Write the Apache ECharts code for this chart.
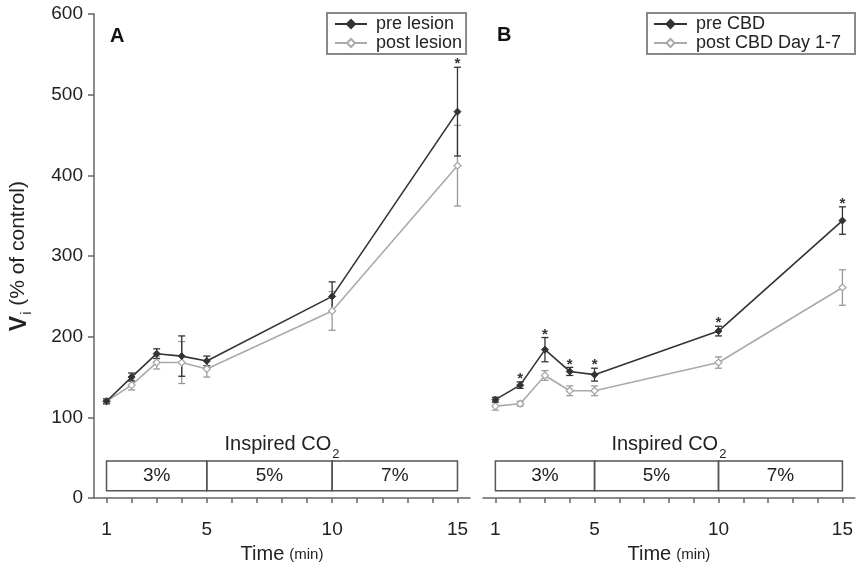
<!DOCTYPE html>
<html>
<head>
<meta charset="utf-8">
<script src="https://cdn.jsdelivr.net/npm/echarts@6/dist/echarts.min.js"></script>
<style>html,body{margin:0;padding:0;background:#fff;}#c{width:856px;height:569px;}</style>
</head>
<body>
<div id="c"></div>
<script>
// ---- data ----
var times = [1, 2, 3, 4, 5, 10, 15];
var preLesion = [120, 150, 179, 176, 170, 250, 479];
var preLesionErr = [3, 5, 6, 25, 6, 18, 55];
var postLesion = [120, 140, 168, 168, 160, 232, 412];
var postLesionErr = [3, 6, 8, 26, 10, 24, 50];
var sigA = [0, 0, 0, 0, 0, 0, 1];

var preCBD = [122, 140, 184, 157, 153, 207, 344];
var preCBDErr = [3, 4, 15, 5, 8, 6, 17];
var postCBD = [114, 117, 152, 133, 133, 168, 261];
var postCBDErr = [5, 3, 6, 6, 6, 7, 22];
var sigB = [0, 1, 1, 1, 1, 1, 1];

var co2Starts = [1, 5, 10];
var co2Ends = [5, 10, 15];
var co2Labels = ['3%', '5%', '7%'];

var xTickValues = [1,2,3,4,5,6,7,8,9,10,11,12,13,14,15];
var xLabelValues = [1, 5, 10, 15];

var FONT = 'Liberation Sans, Arial, sans-serif';
var DARK = '#333';
var LIGHT = '#aaa';

function pairs(ys) { return times.map(function (t, i) { return [t, ys[i]]; }); }
function errData(ys, es, sig) { return times.map(function (t, i) { return [t, ys[i], es[i], sig ? sig[i] : 0]; }); }

function errRender(color) {
  return function (params, api) {
    var x = api.value(0), y = api.value(1), e = api.value(2), s = api.value(3);
    var top = api.coord([x, y + e]);
    var bot = api.coord([x, y - e]);
    var w = 3.5;
    var children = [
      {type: 'line', shape: {x1: top[0], y1: top[1], x2: bot[0], y2: bot[1]}, style: {stroke: color, lineWidth: 1.3}},
      {type: 'line', shape: {x1: top[0] - w, y1: top[1], x2: top[0] + w, y2: top[1]}, style: {stroke: color, lineWidth: 1.3}},
      {type: 'line', shape: {x1: bot[0] - w, y1: bot[1], x2: bot[0] + w, y2: bot[1]}, style: {stroke: color, lineWidth: 1.3}}
    ];
    if (s) {
      children.push({type: 'text', x: top[0], y: top[1] - 3, style: {text: '*', fill: '#333', font: 'bold 15px ' + FONT, align: 'center', verticalAlign: 'middle'}});
    }
    return {type: 'group', children: children};
  };
}

function co2Render(params, api) {
  var s = api.value(0), e = api.value(1);
  var p1 = api.coord([s, 46]);
  var p2 = api.coord([e, 9]);
  var mid = api.coord([(s + e) / 2, 27.5]);
  var children = [
    {type: 'rect', shape: {x: p1[0], y: p1[1], width: p2[0] - p1[0], height: p2[1] - p1[1]}, style: {fill: 'none', stroke: '#555', lineWidth: 1.5}},
    {type: 'text', x: mid[0], y: mid[1], style: {text: co2Labels[params.dataIndex], fill: '#222', font: '19px ' + FONT, align: 'center', verticalAlign: 'middle'}}
  ];
  if (params.dataIndex === 0) {
    var c = api.coord([(co2Starts[0] + co2Ends[co2Ends.length - 1]) / 2, 64]);
    children.push({type: 'text', x: c[0], y: c[1], style: {
      text: '{a|Inspired CO}{s|2}', align: 'center', verticalAlign: 'middle',
      rich: {
        a: {fontSize: 20, fontFamily: FONT, fill: '#222', color: '#222', lineHeight: 24, verticalAlign: 'top'},
        s: {fontSize: 13, fontFamily: FONT, fill: '#222', color: '#222', lineHeight: 13, padding: [13, 0, 0, 1], verticalAlign: 'top'}
      }
    }});
  }
  return {type: 'group', children: children};
}

var co2Data = co2Starts.map(function (s, i) { return [s, co2Ends[i]]; });

function xAxisDef(gi) {
  return {
    type: 'value', gridIndex: gi, min: 0.5, max: 15.5,
    axisLine: {show: true, lineStyle: {color: '#666', width: 1.5}},
    axisTick: {show: true, customValues: xTickValues, length: 5, lineStyle: {color: '#666', width: 1.5}},
    axisLabel: {customValues: xLabelValues, fontSize: 19, color: '#222', fontFamily: FONT, margin: 22},
    splitLine: {show: false},
    name: '{a|Time}{b|(min)}', nameLocation: 'middle', nameGap: 45,
    nameTextStyle: {rich: {a: {fontSize: 20, fontFamily: FONT, color: '#222'}, b: {fontSize: 15, fontFamily: FONT, color: '#222', padding: [2, 0, 0, 5]}}}
  };
}

var option = {
  animation: false,
  backgroundColor: '#fff',
  grid: [
    {left: 94, width: 376, top: 14, height: 486},
    {left: 483, width: 375, top: 14, height: 486}
  ],
  xAxis: [xAxisDef(0), xAxisDef(1)],
  yAxis: [
    {
      type: 'value', gridIndex: 0, min: 0, max: 600, interval: 100,
      axisLine: {show: true, lineStyle: {color: '#666', width: 1.5}},
      axisTick: {show: true, length: 6, lineStyle: {color: '#666', width: 1.5}},
      axisLabel: {fontSize: 19, color: '#222', fontFamily: FONT, margin: 11},
      splitLine: {show: false},
      name: '{v|V}{i|i}{t| (% of control)}', nameLocation: 'middle', nameGap: 62,
      nameTextStyle: {rich: {
        v: {fontSize: 23, fontWeight: 'bold', fontFamily: FONT, color: '#222', lineHeight: 24, verticalAlign: 'top'},
        i: {fontSize: 14, fontFamily: FONT, color: '#222', lineHeight: 14, padding: [12, 0, 0, 1], verticalAlign: 'top'},
        t: {fontSize: 21, fontFamily: FONT, color: '#222', lineHeight: 24, verticalAlign: 'top'}
      }}
    },
    {type: 'value', gridIndex: 1, min: 0, max: 600, interval: 100, show: false}
  ],
  legend: [
    {
      data: ['pre lesion', 'post lesion'], orient: 'vertical', left: 327, top: 13,
      itemWidth: 32, itemHeight: 10, itemGap: 1, padding: [2, 4, 2, 7],
      borderColor: '#888', borderWidth: 2, borderRadius: 0,
      textStyle: {fontSize: 18, fontFamily: FONT, color: '#222', lineHeight: 16, padding: [0, 0, 0, 4]}
    },
    {
      data: ['pre CBD', 'post CBD Day 1-7'], orient: 'vertical', left: 647, top: 13,
      itemWidth: 33, itemHeight: 10, itemGap: 1, padding: [2, 14, 2, 6],
      borderColor: '#888', borderWidth: 2, borderRadius: 0,
      textStyle: {fontSize: 18, fontFamily: FONT, color: '#222', lineHeight: 16, padding: [0, 0, 0, 4]}
    }
  ],
  graphic: [
    {type: 'text', left: 110, top: 26, style: {text: 'A', font: 'bold 20px ' + FONT, fill: '#111'}},
    {type: 'text', left: 497, top: 25, style: {text: 'B', font: 'bold 20px ' + FONT, fill: '#111'}}
  ],
  series: [
    {type: 'custom', name: 'co2A', xAxisIndex: 0, yAxisIndex: 0, data: co2Data, renderItem: co2Render, silent: true, z: 1},
    {type: 'custom', name: 'co2B', xAxisIndex: 1, yAxisIndex: 1, data: co2Data, renderItem: co2Render, silent: true, z: 1},
    {type: 'custom', name: 'errPostA', xAxisIndex: 0, yAxisIndex: 0, data: errData(postLesion, postLesionErr), renderItem: errRender('#999'), z: 2},
    {type: 'custom', name: 'errPreA', xAxisIndex: 0, yAxisIndex: 0, data: errData(preLesion, preLesionErr, sigA), renderItem: errRender(DARK), z: 3},
    {type: 'custom', name: 'errPostB', xAxisIndex: 1, yAxisIndex: 1, data: errData(postCBD, postCBDErr), renderItem: errRender('#999'), z: 2},
    {type: 'custom', name: 'errPreB', xAxisIndex: 1, yAxisIndex: 1, data: errData(preCBD, preCBDErr, sigB), renderItem: errRender(DARK), z: 3},
    {type: 'line', name: 'post lesion', xAxisIndex: 0, yAxisIndex: 0, data: pairs(postLesion), symbol: 'diamond', symbolSize: 7,
      lineStyle: {color: LIGHT, width: 1.6}, itemStyle: {color: '#fff', borderColor: LIGHT, borderWidth: 1.3}, z: 4},
    {type: 'line', name: 'pre lesion', xAxisIndex: 0, yAxisIndex: 0, data: pairs(preLesion), symbol: 'diamond', symbolSize: 7,
      lineStyle: {color: DARK, width: 1.6}, itemStyle: {color: DARK, borderColor: DARK, borderWidth: 1}, z: 5},
    {type: 'line', name: 'post CBD Day 1-7', xAxisIndex: 1, yAxisIndex: 1, data: pairs(postCBD), symbol: 'diamond', symbolSize: 7,
      lineStyle: {color: LIGHT, width: 1.6}, itemStyle: {color: '#fff', borderColor: LIGHT, borderWidth: 1.3}, z: 4},
    {type: 'line', name: 'pre CBD', xAxisIndex: 1, yAxisIndex: 1, data: pairs(preCBD), symbol: 'diamond', symbolSize: 7,
      lineStyle: {color: DARK, width: 1.6}, itemStyle: {color: DARK, borderColor: DARK, borderWidth: 1}, z: 5}
  ]
};

var chart = echarts.init(document.getElementById('c'), null, {renderer: 'canvas'});
chart.setOption(option);
</script>
</body>
</html>
